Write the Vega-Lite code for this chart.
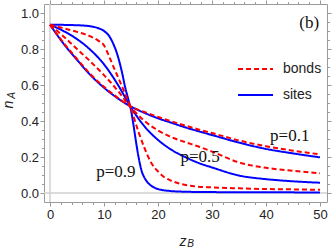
{
"$schema": "https://vega.github.io/schema/vega-lite/v6.json",
"width": 283, "height": 198,
"autosize": {"type": "none"},
"padding": {"left": 44, "top": 4, "right": 5, "bottom": 47},
"background": "white",
"config": {
  "view": {"stroke": "#9a9a9a", "strokeWidth": 1},
  "axis": {"domain": false, "grid": false, "tickColor": "#9a9a9a", "tickWidth": 1, "labelFont": "Liberation Sans", "labelFontSize": 13, "labelColor": "#222222", "titleColor": "#222222", "titleFont": "Liberation Sans", "titleFontWeight": "normal", "titleFontStyle": "italic"}
},
"data": {"values": [
{"p":"0.1","type":"sites","x":0,"y":0.935},{"p":"0.1","type":"sites","x":2.5,"y":0.83},{"p":"0.1","type":"sites","x":5,"y":0.74},{"p":"0.1","type":"sites","x":7.5,"y":0.655},{"p":"0.1","type":"sites","x":10,"y":0.585},{"p":"0.1","type":"sites","x":12.5,"y":0.527},{"p":"0.1","type":"sites","x":15,"y":0.48},{"p":"0.1","type":"sites","x":17.5,"y":0.445},{"p":"0.1","type":"sites","x":20,"y":0.415},{"p":"0.1","type":"sites","x":22.5,"y":0.39},{"p":"0.1","type":"sites","x":25,"y":0.365},{"p":"0.1","type":"sites","x":27.5,"y":0.343},{"p":"0.1","type":"sites","x":30,"y":0.322},{"p":"0.1","type":"sites","x":35,"y":0.28},{"p":"0.1","type":"sites","x":40,"y":0.245},{"p":"0.1","type":"sites","x":45,"y":0.22},{"p":"0.1","type":"sites","x":50,"y":0.198},
{"p":"0.5","type":"sites","x":0,"y":0.935},{"p":"0.5","type":"sites","x":2.5,"y":0.9},{"p":"0.5","type":"sites","x":5,"y":0.855},{"p":"0.5","type":"sites","x":7.5,"y":0.795},{"p":"0.5","type":"sites","x":10,"y":0.715},{"p":"0.5","type":"sites","x":12.5,"y":0.605},{"p":"0.5","type":"sites","x":15,"y":0.475},{"p":"0.5","type":"sites","x":17.5,"y":0.37},{"p":"0.5","type":"sites","x":20,"y":0.295},{"p":"0.5","type":"sites","x":22.5,"y":0.24},{"p":"0.5","type":"sites","x":25,"y":0.2},{"p":"0.5","type":"sites","x":27.5,"y":0.167},{"p":"0.5","type":"sites","x":30,"y":0.142},{"p":"0.5","type":"sites","x":35,"y":0.097},{"p":"0.5","type":"sites","x":40,"y":0.077},{"p":"0.5","type":"sites","x":45,"y":0.065},{"p":"0.5","type":"sites","x":50,"y":0.057},
{"p":"0.9","type":"sites","x":0,"y":0.935},{"p":"0.9","type":"sites","x":5,"y":0.932},{"p":"0.9","type":"sites","x":7.5,"y":0.926},{"p":"0.9","type":"sites","x":9,"y":0.915},{"p":"0.9","type":"sites","x":10,"y":0.9},{"p":"0.9","type":"sites","x":11,"y":0.87},{"p":"0.9","type":"sites","x":11.7,"y":0.83},{"p":"0.9","type":"sites","x":12.3,"y":0.785},{"p":"0.9","type":"sites","x":12.8,"y":0.735},{"p":"0.9","type":"sites","x":13.3,"y":0.675},{"p":"0.9","type":"sites","x":13.9,"y":0.59},{"p":"0.9","type":"sites","x":14.5,"y":0.52},{"p":"0.9","type":"sites","x":15,"y":0.46},{"p":"0.9","type":"sites","x":15.4,"y":0.39},{"p":"0.9","type":"sites","x":15.8,"y":0.31},{"p":"0.9","type":"sites","x":16.4,"y":0.2},{"p":"0.9","type":"sites","x":17,"y":0.12},{"p":"0.9","type":"sites","x":17.5,"y":0.085},{"p":"0.9","type":"sites","x":18,"y":0.062},{"p":"0.9","type":"sites","x":19,"y":0.035},{"p":"0.9","type":"sites","x":20,"y":0.022},{"p":"0.9","type":"sites","x":22,"y":0.012},{"p":"0.9","type":"sites","x":25,"y":0.007},{"p":"0.9","type":"sites","x":30,"y":0.005},{"p":"0.9","type":"sites","x":40,"y":0.004},{"p":"0.9","type":"sites","x":50,"y":0.003},
{"p":"0.1","type":"bonds","x":0,"y":0.935},{"p":"0.1","type":"bonds","x":2.5,"y":0.835},{"p":"0.1","type":"bonds","x":5,"y":0.745},{"p":"0.1","type":"bonds","x":7.5,"y":0.66},{"p":"0.1","type":"bonds","x":10,"y":0.59},{"p":"0.1","type":"bonds","x":12.5,"y":0.53},{"p":"0.1","type":"bonds","x":15,"y":0.48},{"p":"0.1","type":"bonds","x":17.5,"y":0.45},{"p":"0.1","type":"bonds","x":20,"y":0.423},{"p":"0.1","type":"bonds","x":22.5,"y":0.398},{"p":"0.1","type":"bonds","x":25,"y":0.375},{"p":"0.1","type":"bonds","x":27.5,"y":0.353},{"p":"0.1","type":"bonds","x":30,"y":0.333},{"p":"0.1","type":"bonds","x":35,"y":0.292},{"p":"0.1","type":"bonds","x":40,"y":0.26},{"p":"0.1","type":"bonds","x":45,"y":0.235},{"p":"0.1","type":"bonds","x":50,"y":0.215},
{"p":"0.5","type":"bonds","x":0,"y":0.935},{"p":"0.5","type":"bonds","x":2.5,"y":0.87},{"p":"0.5","type":"bonds","x":5,"y":0.8},{"p":"0.5","type":"bonds","x":7.5,"y":0.73},{"p":"0.5","type":"bonds","x":10,"y":0.655},{"p":"0.5","type":"bonds","x":12.5,"y":0.57},{"p":"0.5","type":"bonds","x":15,"y":0.475},{"p":"0.5","type":"bonds","x":17.5,"y":0.4},{"p":"0.5","type":"bonds","x":20,"y":0.348},{"p":"0.5","type":"bonds","x":22.5,"y":0.31},{"p":"0.5","type":"bonds","x":25,"y":0.283},{"p":"0.5","type":"bonds","x":27.5,"y":0.258},{"p":"0.5","type":"bonds","x":30,"y":0.23},{"p":"0.5","type":"bonds","x":35,"y":0.17},{"p":"0.5","type":"bonds","x":40,"y":0.14},{"p":"0.5","type":"bonds","x":45,"y":0.123},{"p":"0.5","type":"bonds","x":50,"y":0.11},
{"p":"0.9","type":"bonds","x":0,"y":0.935},{"p":"0.9","type":"bonds","x":2.5,"y":0.915},{"p":"0.9","type":"bonds","x":5,"y":0.895},{"p":"0.9","type":"bonds","x":7.5,"y":0.87},{"p":"0.9","type":"bonds","x":9,"y":0.845},{"p":"0.9","type":"bonds","x":10,"y":0.82},{"p":"0.9","type":"bonds","x":10.8,"y":0.77},{"p":"0.9","type":"bonds","x":11.7,"y":0.705},{"p":"0.9","type":"bonds","x":12.5,"y":0.65},{"p":"0.9","type":"bonds","x":13.3,"y":0.595},{"p":"0.9","type":"bonds","x":14.2,"y":0.53},{"p":"0.9","type":"bonds","x":15,"y":0.47},{"p":"0.9","type":"bonds","x":16,"y":0.375},{"p":"0.9","type":"bonds","x":16.5,"y":0.33},{"p":"0.9","type":"bonds","x":17.5,"y":0.25},{"p":"0.9","type":"bonds","x":18.8,"y":0.165},{"p":"0.9","type":"bonds","x":20,"y":0.12},{"p":"0.9","type":"bonds","x":21,"y":0.092},{"p":"0.9","type":"bonds","x":22.2,"y":0.072},{"p":"0.9","type":"bonds","x":24,"y":0.052},{"p":"0.9","type":"bonds","x":26,"y":0.04},{"p":"0.9","type":"bonds","x":30,"y":0.031},{"p":"0.9","type":"bonds","x":35,"y":0.026},{"p":"0.9","type":"bonds","x":40,"y":0.022},{"p":"0.9","type":"bonds","x":45,"y":0.02},{"p":"0.9","type":"bonds","x":50,"y":0.018}
]},
"layer": [
  {"data": {"values": [{}]},
   "mark": {"type": "rule", "color": "#d0d0d0", "strokeWidth": 1.5},
   "encoding": {"y": {"datum": 0, "type": "quantitative", "scale": {"domain": [-0.05, 1.05], "nice": false, "zero": false}, "axis": null}}},
  {"data": {"values": [{}]},
   "mark": {"type": "rule", "color": "#d0d0d0", "strokeWidth": 1.5},
   "encoding": {"x": {"datum": 0, "type": "quantitative", "scale": {"domain": [-1.11, 51.3], "nice": false, "zero": false}, "axis": null}}},
  {"mark": {"type": "point", "opacity": 0},
   "encoding": {
     "x": {"field": "x", "type": "quantitative", "scale": {"domain": [-1.11, 51.3], "nice": false, "zero": false},
           "axis": {"orient": "bottom", "values": [2,4,6,8,12,14,16,18,22,24,26,28,32,34,36,38,42,44,46,48], "tickSize": 2.5, "labels": false, "title": "B", "titleFontSize": 10, "titleX": 146, "titleY": 44, "titleBaseline": "alphabetic", "titleAlign": "center"}},
     "y": {"field": "y", "type": "quantitative", "scale": {"domain": [-0.05, 1.05], "nice": false, "zero": false},
           "axis": {"orient": "left", "values": [0.05,0.1,0.15,0.25,0.3,0.35,0.45,0.5,0.55,0.65,0.7,0.75,0.85,0.9,0.95], "tickSize": 2.5, "labels": false, "title": "A", "titleFontSize": 10, "titleAngle": -90, "titleX": -29.5, "titleY": 91, "titleBaseline": "alphabetic", "titleAlign": "center"}}
   }},
  {"mark": {"type": "point", "opacity": 0},
   "encoding": {
     "x": {"field": "x", "type": "quantitative", "axis": {"orient": "top", "values": [0,10,20,30,40,50], "tickSize": 4, "labels": false, "title": null}},
     "y": {"field": "y", "type": "quantitative", "axis": {"orient": "right", "values": [0,0.2,0.4,0.6,0.8,1.0], "tickSize": 4, "labels": false, "title": null}}
   }},
  {"mark": {"type": "point", "opacity": 0},
   "encoding": {
     "x": {"field": "x", "type": "quantitative", "axis": {"orient": "top", "values": [2,4,6,8,12,14,16,18,22,24,26,28,32,34,36,38,42,44,46,48], "tickSize": 2.5, "labels": false, "title": null}},
     "y": {"field": "y", "type": "quantitative", "axis": {"orient": "right", "values": [0.05,0.1,0.15,0.25,0.3,0.35,0.45,0.5,0.55,0.65,0.7,0.75,0.85,0.9,0.95], "tickSize": 2.5, "labels": false, "title": null}}
   }},
  {"mark": {"type": "line", "strokeWidth": 2, "interpolate": "monotone"},
   "encoding": {
     "x": {"field": "x", "type": "quantitative",
           "axis": {"orient": "bottom", "values": [0,10,20,30,40,50], "format": "d", "tickSize": 4, "labelPadding": 2, "title": "z", "titleFontSize": 14, "titleX": 138.5, "titleY": 43, "titleBaseline": "alphabetic", "titleAlign": "center"}},
     "y": {"field": "y", "type": "quantitative",
           "axis": {"orient": "left", "values": [0,0.2,0.4,0.6,0.8,1.0], "format": ".1f", "tickSize": 4, "labelPadding": 1.5, "title": "n", "titleFontSize": 14, "titleAngle": -90, "titleX": -31.5, "titleY": 100, "titleBaseline": "alphabetic", "titleAlign": "center"}},
     "color": {"field": "type", "type": "nominal", "scale": {"domain": ["bonds", "sites"], "range": ["#ff0000", "#0000ff"]},
               "legend": {"title": null, "orient": "none", "legendX": 193, "legendY": 46.5, "symbolType": "stroke", "symbolSize": 1225, "symbolStrokeWidth": 2, "labelFont": "Liberation Sans", "labelFontSize": 14, "labelColor": "#222222", "labelOffset": 9, "rowPadding": -12, "padding": 0}},
     "strokeDash": {"field": "type", "type": "nominal", "scale": {"domain": ["bonds", "sites"], "range": [[5, 3], [1, 0]]},
               "legend": {"title": null, "orient": "none", "legendX": 193, "legendY": 46.5, "symbolType": "stroke", "symbolSize": 1225, "symbolStrokeWidth": 2, "labelFont": "Liberation Sans", "labelFontSize": 14, "labelColor": "#222222", "labelOffset": 9, "rowPadding": -12, "padding": 0}},
     "detail": {"field": "p"}
   }},
  {"data": {"values": [{}]},
   "mark": {"type": "text", "font": "Liberation Serif", "fontSize": 17, "fill": "#111111", "baseline": "alphabetic", "align": "center"},
   "encoding": {"x": {"datum": 44.4, "type": "quantitative", "axis": null}, "y": {"datum": 0.29, "type": "quantitative", "axis": null}, "text": {"value": "p=0.1"}}},
  {"data": {"values": [{}]},
   "mark": {"type": "text", "font": "Liberation Serif", "fontSize": 17, "fill": "#111111", "baseline": "alphabetic", "align": "center"},
   "encoding": {"x": {"datum": 27.8, "type": "quantitative", "axis": null}, "y": {"datum": 0.172, "type": "quantitative", "axis": null}, "text": {"value": "p=0.5"}}},
  {"data": {"values": [{}]},
   "mark": {"type": "text", "font": "Liberation Serif", "fontSize": 17, "fill": "#111111", "baseline": "alphabetic", "align": "center"},
   "encoding": {"x": {"datum": 12.2, "type": "quantitative", "axis": null}, "y": {"datum": 0.089, "type": "quantitative", "axis": null}, "text": {"value": "p=0.9"}}},
  {"data": {"values": [{}]},
   "mark": {"type": "text", "font": "Liberation Serif", "fontSize": 17, "fill": "#111111", "baseline": "alphabetic", "align": "center"},
   "encoding": {"x": {"datum": 48, "type": "quantitative", "axis": null}, "y": {"datum": 0.915, "type": "quantitative", "axis": null}, "text": {"value": "(b)"}}}
],
"resolve": {"axis": {"x": "independent", "y": "independent"}}
}
